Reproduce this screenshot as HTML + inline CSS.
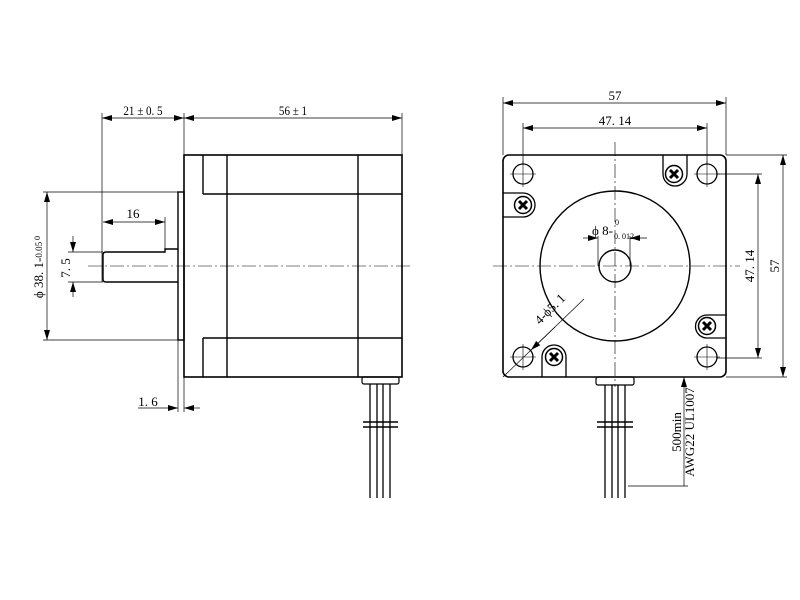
<!DOCTYPE html>
<html><head><meta charset="utf-8"><style>html,body{margin:0;padding:0;background:#fff}svg{display:block}</style></head><body>
<svg width="800" height="600" viewBox="0 0 800 600" xmlns="http://www.w3.org/2000/svg">
<defs>
<marker id="a" viewBox="0 0 10 6" refX="10" refY="3" markerWidth="10" markerHeight="6" markerUnits="userSpaceOnUse" orient="auto-start-reverse"><path d="M0,0L10,3L0,6z" fill="#000"/></marker>
</defs>
<g fill="none" stroke="#000" stroke-width="1" font-family="Liberation Sans, sans-serif">
<!-- LEFT VIEW -->
<rect x="184" y="155" width="218" height="222" stroke-width="1.6"/>
<line x1="203" y1="155" x2="203" y2="194" stroke-width="1.4"/>
<line x1="203" y1="338" x2="203" y2="377" stroke-width="1.4"/>
<line x1="227" y1="155" x2="227" y2="377" stroke-width="1.4"/>
<line x1="358" y1="155" x2="358" y2="377" stroke-width="1.4"/>
<line x1="203" y1="194" x2="402" y2="194" stroke-width="1.4"/>
<line x1="203" y1="338" x2="402" y2="338" stroke-width="1.4"/>
<rect x="178" y="192" width="6" height="148" stroke-width="1.4"/>
<path d="M178,249 L165,249 L165,252 L106,252 Q103,252 103,255 L103,279 Q103,282 106,282 L178,282" stroke-width="1.4"/>
<line x1="88" y1="266" x2="410" y2="266" stroke-width="0.6" stroke-dasharray="14,3,2,3"/>
<!-- dims left -->
<line x1="102" y1="113" x2="102" y2="282" stroke-width="0.7"/>
<line x1="184" y1="113" x2="184" y2="155" stroke-width="0.7"/>
<line x1="402" y1="113" x2="402" y2="155" stroke-width="0.7"/>
<line x1="102" y1="118" x2="184" y2="118" stroke-width="0.7" marker-start="url(#a)" marker-end="url(#a)"/>
<line x1="184" y1="118" x2="402" y2="118" stroke-width="0.7" marker-start="url(#a)" marker-end="url(#a)"/>
<line x1="165" y1="217" x2="165" y2="249" stroke-width="0.7"/>
<line x1="103" y1="222" x2="165" y2="222" stroke-width="0.7" marker-start="url(#a)" marker-end="url(#a)"/>
<line x1="68" y1="252" x2="103" y2="252" stroke-width="0.7"/>
<line x1="68" y1="282" x2="103" y2="282" stroke-width="0.7"/>
<line x1="73" y1="236" x2="73" y2="252" stroke-width="0.7" marker-end="url(#a)"/>
<line x1="73" y1="297" x2="73" y2="282" stroke-width="0.7" marker-end="url(#a)"/>
<line x1="43" y1="192" x2="178" y2="192" stroke-width="0.7"/>
<line x1="43" y1="340" x2="178" y2="340" stroke-width="0.7"/>
<line x1="47" y1="192" x2="47" y2="340" stroke-width="0.7" marker-start="url(#a)" marker-end="url(#a)"/>
<line x1="178" y1="340" x2="178" y2="412" stroke-width="0.7"/>
<line x1="184" y1="377" x2="184" y2="412" stroke-width="0.7"/>
<line x1="138" y1="408" x2="178" y2="408" stroke-width="0.7" marker-end="url(#a)"/>
<line x1="200" y1="408" x2="184" y2="408" stroke-width="0.7" marker-end="url(#a)"/>
<!-- left wires -->
<rect x="362" y="377" width="37" height="7" rx="2" stroke-width="1.2"/>
<g stroke-width="1.3"><line x1="370" y1="384" x2="370" y2="498"/><line x1="377" y1="384" x2="377" y2="498"/><line x1="383" y1="384" x2="383" y2="498"/><line x1="390" y1="384" x2="390" y2="498"/></g>
<line x1="363" y1="422" x2="398" y2="422" stroke-width="1.5"/><line x1="363" y1="427" x2="398" y2="427" stroke-width="1.5"/>
<!-- RIGHT VIEW -->
<rect x="503" y="155" width="223" height="222" rx="6" stroke-width="1.6"/>
<circle cx="615" cy="266" r="75" stroke-width="1.4"/>
<circle cx="615" cy="266" r="16" stroke-width="1.4"/>
<line x1="493" y1="266" x2="740" y2="266" stroke-width="0.6" stroke-dasharray="14,3,2,3"/>
<line x1="615" y1="142" x2="615" y2="387" stroke-width="0.6" stroke-dasharray="14,3,2,3"/>
<g stroke-width="1.3">
<circle cx="523" cy="174" r="10"/><circle cx="707" cy="174" r="10"/><circle cx="523" cy="357" r="10"/><circle cx="707" cy="357" r="10"/>
</g>
<g stroke-width="0.6"><line x1="510" y1="174" x2="536" y2="174"/><line x1="523" y1="161" x2="523" y2="187"/><line x1="694" y1="174" x2="720" y2="174"/><line x1="707" y1="161" x2="707" y2="187"/><line x1="510" y1="357" x2="536" y2="357"/><line x1="523" y1="344" x2="523" y2="370"/><line x1="694" y1="357" x2="720" y2="357"/><line x1="707" y1="344" x2="707" y2="370"/></g>
<!-- tabs -->
<path d="M663,155 L663,174 A12,12 0 0 0 687,174 L687,155" stroke-width="1.3"/>
<path d="M503,193 L523,193 A12,12 0 0 1 523,217 L503,217" stroke-width="1.3"/>
<path d="M726,315 L707,315 A11.5,11.5 0 0 0 707,338 L726,338" stroke-width="1.3"/>
<path d="M542,377 L542,357 A12,12 0 0 1 566,357 L566,377" stroke-width="1.3"/>
<g stroke-width="1.5">
<circle cx="674" cy="174" r="8.5"/><circle cx="523" cy="205" r="8.5"/><circle cx="707" cy="326" r="8.5"/><circle cx="554" cy="357" r="8.5"/>
</g>
<g stroke-width="3">
<path d="M670,170l8,8M678,170l-8,8"/><path d="M519,201l8,8M527,201l-8,8"/><path d="M703,322l8,8M711,322l-8,8"/><path d="M550,353l8,8M558,353l-8,8"/>
</g>
<!-- dims right -->
<line x1="503" y1="97" x2="503" y2="155" stroke-width="0.7"/>
<line x1="726" y1="97" x2="726" y2="155" stroke-width="0.7"/>
<line x1="503" y1="103" x2="726" y2="103" stroke-width="0.7" marker-start="url(#a)" marker-end="url(#a)"/>
<line x1="523" y1="123" x2="523" y2="164" stroke-width="0.7"/>
<line x1="707" y1="123" x2="707" y2="164" stroke-width="0.7"/>
<line x1="523" y1="128" x2="707" y2="128" stroke-width="0.7" marker-start="url(#a)" marker-end="url(#a)"/>
<line x1="717" y1="174" x2="762" y2="174" stroke-width="0.7"/>
<line x1="717" y1="358" x2="762" y2="358" stroke-width="0.7"/>
<line x1="758" y1="174" x2="758" y2="358" stroke-width="0.7" marker-start="url(#a)" marker-end="url(#a)"/>
<line x1="726" y1="155" x2="787" y2="155" stroke-width="0.7"/>
<line x1="726" y1="377" x2="787" y2="377" stroke-width="0.7"/>
<line x1="783" y1="155" x2="783" y2="377" stroke-width="0.7" marker-start="url(#a)" marker-end="url(#a)"/>
<line x1="598" y1="236" x2="598" y2="266" stroke-width="0.7"/>
<line x1="630" y1="236" x2="630" y2="266" stroke-width="0.7"/>
<line x1="583" y1="238" x2="598" y2="238" stroke-width="0.7" marker-end="url(#a)"/>
<line x1="647" y1="238" x2="630" y2="238" stroke-width="0.7" marker-end="url(#a)"/>
<line x1="584" y1="299" x2="503" y2="377" stroke-width="0.7"/>
<line x1="555" y1="327" x2="531" y2="350" stroke-width="0.7" marker-end="url(#a)"/>
<!-- right wires -->
<rect x="596" y="377" width="38" height="8" rx="2" stroke-width="1.2"/>
<g stroke-width="1.3"><line x1="605" y1="385" x2="605" y2="498"/><line x1="612" y1="385" x2="612" y2="498"/><line x1="618" y1="385" x2="618" y2="498"/><line x1="625" y1="385" x2="625" y2="498"/></g>
<line x1="597" y1="422" x2="633" y2="422" stroke-width="1.5"/><line x1="597" y1="427" x2="633" y2="427" stroke-width="1.5"/>
<line x1="684" y1="377" x2="684" y2="486" stroke-width="0.7" marker-start="url(#a)"/>
<line x1="628" y1="486" x2="688" y2="486" stroke-width="0.7"/>
</g>
<g font-family="Liberation Serif, serif" font-size="13" fill="#000" stroke="none">
<text x="143" y="115" text-anchor="middle" transform="translate(143 0) scale(0.85 1) translate(-143 0)">21 ± 0. 5</text>
<text x="293" y="115" text-anchor="middle" transform="translate(293 0) scale(0.85 1) translate(-293 0)">56 ± 1</text>
<text x="133" y="218" text-anchor="middle">16</text>
<text x="148" y="406" text-anchor="middle">1. 6</text>
<text transform="translate(70 268) rotate(-90)" text-anchor="middle">7. 5</text>
<text transform="translate(43 270) rotate(-90)" text-anchor="middle">ϕ 38. 1-<tspan font-size="9" dy="-1">0.05</tspan></text>
<text x="40" y="240" font-size="8" transform="rotate(-90 40 240)">0</text>
<text x="615" y="100" text-anchor="middle">57</text>
<text x="615" y="125" text-anchor="middle">47. 14</text>
<text transform="translate(754 266) rotate(-90)" text-anchor="middle">47. 14</text>
<text transform="translate(779 266) rotate(-90)" text-anchor="middle">57</text>
<text x="592" y="235">ϕ 8-</text>
<text x="614" y="239" font-size="8">0. 012</text>
<text x="615" y="225" font-size="8">0</text>
<text transform="translate(553 312) rotate(-45)" text-anchor="middle">4-ϕ5. 1</text>
<text transform="translate(681 432) rotate(-90)" text-anchor="middle">500min</text>
<text transform="translate(694 432) rotate(-90)" text-anchor="middle">AWG22 UL1007</text>
</g>
</svg>
</body></html>
